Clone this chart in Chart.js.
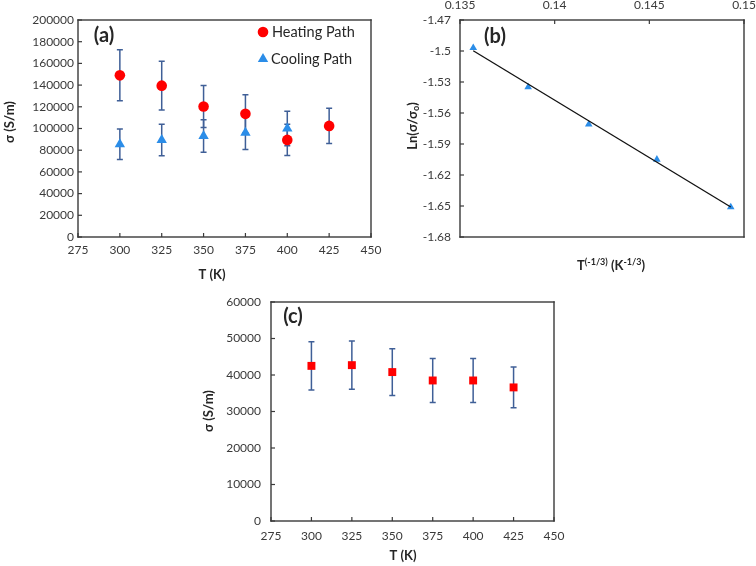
<!DOCTYPE html>
<html><head><meta charset="utf-8">
<script src="https://cdn.jsdelivr.net/npm/chart.js@4.4.1/dist/chart.umd.min.js"></script>
<style>
html,body{margin:0;padding:0;background:#fff;}
#wrap{position:relative;width:756px;height:566px;overflow:hidden;background:#fff;}
canvas{position:absolute;left:0;top:0;}
</style></head><body>
<div id="wrap">
<canvas id="ca" width="756" height="566"></canvas>
<canvas id="cb" width="756" height="566"></canvas>
<canvas id="cc" width="756" height="566"></canvas>
</div>
<script>
// ---- Panel (a) data ----
const tempHeating = [300, 325, 350, 375, 400, 425];
const sigmaHeating = [149000, 139500, 120300, 113500, 89500, 102400];
const errHeating = [23500, 22500, 19400, 17500, 14400, 16200];
const tempCooling = [300, 325, 350, 375, 400];
const sigmaCooling = [85500, 89500, 93000, 96000, 100000];
const errCooling = [14000, 14500, 15000, 15300, 16000];
const xTicksA = [275, 300, 325, 350, 375, 400, 425, 450];
const yTicksA = [0, 20000, 40000, 60000, 80000, 100000, 120000, 140000, 160000, 180000, 200000];

// ---- Panel (b) data ----
const invT = [0.1357, 0.1386, 0.1418, 0.1454, 0.1493];
const lnRatio = [-1.497, -1.535, -1.571, -1.605, -1.651];
const fitX = [0.1357, 0.1493];
const fitY = [-1.4997, -1.651];
const xTicksB = [0.135, 0.14, 0.145, 0.15];
const yTicksB = [-1.68, -1.65, -1.62, -1.59, -1.56, -1.53, -1.5, -1.47];

// ---- Panel (c) data ----
const tempC = [300, 325, 350, 375, 400, 425];
const sigmaC = [42500, 42700, 40800, 38500, 38500, 36600];
const errC = [6600, 6600, 6400, 6000, 6000, 5600];
const xTicksC = [275, 300, 325, 350, 375, 400, 425, 450];
const yTicksC = [0, 10000, 20000, 30000, 40000, 50000, 60000];

const FAM = 'Lato, "Open Sans", sans-serif';
const TICK_COLOR = '#3a3a3a';
const TEXT_COLOR = '#262626';
const BOX_COLOR = '#3a3a3a';
const ERR_COLOR = '#3f5f97';
const RED = '#ff0000';
const BLUE = '#2b8de8';

function pts(xs, ys) { return xs.map((x, i) => ({x: x, y: ys[i]})); }

function axis(ticksArr, o) {
  return {
    type: 'linear', position: o.position,
    min: ticksArr[0], max: ticksArr[ticksArr.length - 1],
    afterBuildTicks: s => { s.ticks = ticksArr.map(v => ({value: v})); },
    afterFit: s => {
      if (o.width != null) s.width = o.width;
      if (o.height != null) s.height = o.height;
      s.paddingLeft = 0; s.paddingRight = 0; s.paddingTop = 0; s.paddingBottom = 0;
    },
    grid: {display: false, drawTicks: false}, border: {display: false},
    ticks: {padding: o.pad, color: TICK_COLOR, font: {family: FAM, size: 12},
            callback: v => String(v), maxRotation: 0, autoSkip: false}
  };
}

function drawRich(ctx, item) {
  const size = item.size || 13;
  const weight = item.bold ? 'bold ' : '';
  const parts = item.parts.map(p => {
    const s = (p.sup || p.sub) ? Math.round(size * 0.7) : size;
    ctx.font = weight + s + 'px ' + FAM;
    return {t: p.t, s: s, w: ctx.measureText(p.t).width,
            dy: p.sup ? -size * 0.32 : (p.sub ? size * 0.25 : 0)};
  });
  const total = parts.reduce((a, p) => a + p.w, 0);
  ctx.save();
  ctx.translate(item.x, item.y);
  if (item.rot) ctx.rotate(item.rot);
  let x = item.align === 'left' ? 0 : -total / 2;
  ctx.fillStyle = item.color || TEXT_COLOR;
  ctx.textBaseline = 'middle';
  ctx.textAlign = 'left';
  parts.forEach(p => { ctx.font = weight + p.s + 'px ' + FAM; ctx.fillText(p.t, x, p.dy); x += p.w; });
  ctx.restore();
}

function drawFrame(chart) {
  const ctx = chart.ctx;
  const a = chart.chartArea;
  const L = Math.round(a.left), R = Math.round(a.right);
  const T = Math.round(a.top), B = Math.round(a.bottom);
  const w = 1.4, h = w / 2;
  ctx.save();
  ctx.fillStyle = BOX_COLOR;
  ctx.fillRect(L - h, T - h, R - L + w, w);
  ctx.fillRect(L - h, B - h, R - L + w, w);
  ctx.fillRect(L - h, T - h, w, B - T + w);
  ctx.fillRect(R - h, T - h, w, B - T + w);
  const xs = chart.scales.x, ys = chart.scales.y;
  xs.ticks.forEach(t => {
    const px = xs.getPixelForValue(t.value);
    if (xs.position === 'top') ctx.fillRect(px - 0.6, T, 1.2, 4);
    else ctx.fillRect(px - 0.6, B - 4, 1.2, 4);
  });
  ys.ticks.forEach(t => {
    const py = ys.getPixelForValue(t.value);
    ctx.fillRect(L, py - 0.6, 4, 1.2);
  });
  ctx.restore();
}

const panelPlugin = {
  id: 'panel',
  beforeDatasetsDraw(chart, args, opts) {
    const ctx = chart.ctx;
    const xs = chart.scales.x, ys = chart.scales.y;
    (opts.errorBars || []).forEach(eb => {
      const ds = chart.data.datasets[eb.dataset];
      ctx.save();
      ctx.strokeStyle = ERR_COLOR; ctx.lineWidth = 1.5;
      ds.data.forEach((p, i) => {
        const x = xs.getPixelForValue(p.x);
        const y1 = ys.getPixelForValue(p.y + eb.err[i]);
        const y2 = ys.getPixelForValue(p.y - eb.err[i]);
        ctx.beginPath();
        ctx.moveTo(x, y1); ctx.lineTo(x, y2);
        ctx.moveTo(x - 3, y1); ctx.lineTo(x + 3, y1);
        ctx.moveTo(x - 3, y2); ctx.lineTo(x + 3, y2);
        ctx.stroke();
      });
      ctx.restore();
    });
  },
  afterDraw(chart, args, opts) {
    const ctx = chart.ctx;
    drawFrame(chart);
    (opts.legend || []).forEach(lg => {
      ctx.save();
      ctx.fillStyle = lg.color; ctx.strokeStyle = lg.color;
      Chart.helpers.drawPoint(ctx, {pointStyle: lg.style, radius: lg.radius, rotation: 0, borderWidth: 0}, lg.mx, lg.my);
      ctx.restore();
      drawRich(ctx, {x: lg.tx, y: lg.my, parts: [{t: lg.text}], size: 14.5, align: 'left'});
    });
    (opts.texts || []).forEach(t => drawRich(ctx, t));
  }
};

const baseOpts = (padding, scales, panel) => ({
  responsive: false, animation: false, devicePixelRatio: 1,
  layout: {padding: padding},
  events: [],
  plugins: {legend: {display: false}, tooltip: {enabled: false}, panel: panel},
  scales: scales
});

// ---- Chart (a) ----
new Chart(document.getElementById('ca'), {
  type: 'scatter',
  data: {datasets: [
    {label: 'Heating Path', data: pts(tempHeating, sigmaHeating), pointStyle: 'circle', pointRadius: 5.3,
     backgroundColor: RED, borderColor: RED, borderWidth: 0},
    {label: 'Cooling Path', data: pts(tempCooling, sigmaCooling), pointStyle: 'triangle', pointRadius: 6,
     backgroundColor: BLUE, borderColor: BLUE, borderWidth: 0}
  ]},
  options: baseOpts({left: 0, top: 20, right: 385, bottom: 283}, {
    x: axis(xTicksA, {position: 'bottom', height: 46, pad: 6}),
    y: axis(yTicksA, {position: 'left', width: 78, pad: 4})
  }, {
    errorBars: [{dataset: 0, err: errHeating}, {dataset: 1, err: errCooling}],
    legend: [
      {style: 'circle', radius: 5.3, color: RED, mx: 263, my: 32, tx: 272, text: 'Heating Path'},
      {style: 'triangle', radius: 6, color: BLUE, mx: 263, my: 59, tx: 271, text: 'Cooling Path'}
    ],
    texts: [
      {x: 10, y: 122, rot: -Math.PI / 2, bold: true, size: 13, parts: [{t: 'σ (S/m)'}]},
      {x: 212, y: 275, bold: true, size: 13, parts: [{t: 'T (K)'}]},
      {x: 104, y: 36, bold: true, size: 20, parts: [{t: '(a)'}]}
    ]
  }),
  plugins: [panelPlugin]
});

// ---- Chart (b) ----
new Chart(document.getElementById('cb'), {
  type: 'scatter',
  data: {datasets: [
    {label: 'fit', data: pts(fitX, fitY), showLine: true, pointRadius: 0, borderColor: '#111', borderWidth: 1.3, fill: false},
    {label: 'data', data: pts(invT, lnRatio), pointStyle: 'triangle', pointRadius: 4.4,
     backgroundColor: BLUE, borderColor: BLUE, borderWidth: 0}
  ]},
  options: baseOpts({left: 380, top: 0, right: 12, bottom: 329}, {
    x: axis(xTicksB, {position: 'top', height: 20, pad: 8}),
    y: axis(yTicksB, {position: 'left', width: 80, pad: 9})
  }, {
    texts: [
      {x: 413, y: 126, rot: -Math.PI / 2, bold: true, size: 13,
       parts: [{t: 'Ln(σ/σ'}, {t: 'o', sub: true}, {t: ')'}]},
      {x: 611, y: 266, bold: true, size: 13,
       parts: [{t: 'T'}, {t: '(-1/3)', sup: true}, {t: ' (K'}, {t: '-1/3', sup: true}, {t: ')'}]},
      {x: 495, y: 37, bold: true, size: 20, parts: [{t: '(b)'}]}
    ]
  }),
  plugins: [panelPlugin]
});

// ---- Chart (c) ----
new Chart(document.getElementById('cc'), {
  type: 'scatter',
  data: {datasets: [
    {label: 'sigma', data: pts(tempC, sigmaC), pointStyle: 'rect', pointRadius: 5.6,
     backgroundColor: RED, borderColor: RED, borderWidth: 0}
  ]},
  options: baseOpts({left: 180, top: 302, right: 202, bottom: 0}, {
    x: axis(xTicksC, {position: 'bottom', height: 45, pad: 8}),
    y: axis(yTicksC, {position: 'left', width: 91, pad: 10})
  }, {
    errorBars: [{dataset: 0, err: errC}],
    texts: [
      {x: 209, y: 411, rot: -Math.PI / 2, bold: true, size: 13, parts: [{t: 'σ (S/m)'}]},
      {x: 403, y: 556, bold: true, size: 13, parts: [{t: 'T (K)'}]},
      {x: 293, y: 317, bold: true, size: 20, parts: [{t: '(c)'}]}
    ]
  }),
  plugins: [panelPlugin]
});
</script>
</body></html>
